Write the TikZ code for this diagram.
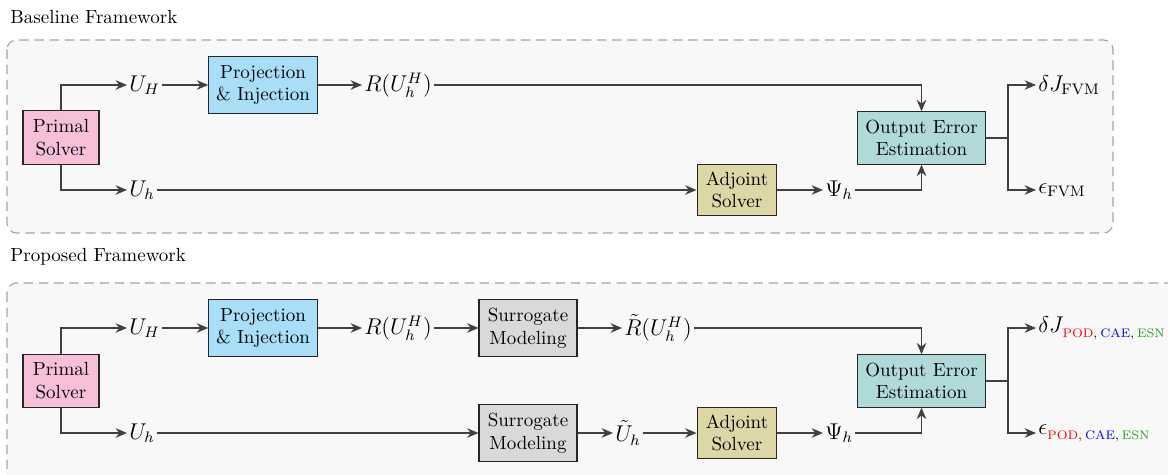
\documentclass[tikz,border=0pt]{standalone}
\usepackage{amsmath}
\usepackage{fontspec}
\usetikzlibrary{arrows.meta}
\definecolor{cpink}{RGB}{247,192,216}
\definecolor{cblue}{RGB}{168,222,248}
\definecolor{cteal}{RGB}{176,218,218}
\definecolor{ckhaki}{RGB}{221,215,166}
\definecolor{cgray}{RGB}{217,217,217}
\definecolor{cbg}{RGB}{248,248,248}
\definecolor{cdash}{RGB}{165,165,165}
\definecolor{cgreen}{RGB}{30,160,30}
\newcommand{\subs}{\raisebox{-2.5pt}{\fontsize{6.5}{8}\selectfont\textcolor{red}{POD},\hspace{1.5pt}\textcolor{blue}{CAE},\hspace{1.5pt}\textcolor{cgreen}{ESN}}}
\begin{document}
\begin{tikzpicture}[x=0.0185cm,y=-0.0185cm,
  blk/.style={draw=black!85, line width=0.6pt, align=center, inner sep=1pt, font=\normalsize},
  lbl/.style={inner sep=1pt, anchor=west, font=\large},
  conn/.style={draw=black!75, line width=0.7pt},
  arr/.style={conn,-{Stealth[length=6pt,width=5pt]}},
  frame/.style={draw=cdash, fill=cbg, dashed, dash pattern=on 5pt off 3pt, line width=0.6pt, rounded corners=5pt}]
\useasboundingbox (0,0) rectangle (1168,475);
\begin{scope}
\clip (0,0) rectangle (1168,475);
\draw[frame] (7,40) rectangle (1113,233);
\draw[frame] (7,283) rectangle (1190,500);
\end{scope}
\node[anchor=west, inner sep=0pt] (t1) at (10,17) {Baseline Framework};
\node[anchor=west, inner sep=0pt] (t2) at (10,257) {Proposed Framework};

% ---------- Baseline ----------
\node[blk, fill=cpink, minimum width=40pt, minimum height=28pt] (ps1) at (61,137.5) {Primal\\Solver};
\node[blk, fill=cblue, minimum width=57pt, minimum height=30pt] (pi1) at (263,85) {Projection\\\& Injection};
\node[blk, fill=cteal, minimum width=67pt, minimum height=27.5pt] (oe1) at (921.5,138) {Output Error\\Estimation};
\node[blk, fill=ckhaki, minimum width=42pt, minimum height=27pt] (as1) at (737,190) {Adjoint\\Solver};
\node[lbl] (uH1) at (127,85) {$U_H$};
\node[lbl] (r1) at (362,85) {$R(U_h^H)$};
\node[lbl] (uh1) at (127,190) {$U_h$};
\node[lbl] (psi1) at (823,190) {$\Psi_h$};
\node[lbl] (dJ1) at (1036,85) {$\delta J_{\text{FVM}}$};
\node[lbl] (e1) at (1036,190) {$\epsilon_{\text{FVM}}$};
\coordinate (b1) at (1008,138);
\draw[arr] (ps1.north) |- (uH1.west);
\draw[arr] (uH1.east) -- (pi1.west);
\draw[arr] (pi1.east) -- (r1.west);
\draw[arr] (r1.east) -| (oe1.north);
\draw[arr] (ps1.south) |- (uh1.west);
\draw[arr] (uh1.east) -- (as1.west);
\draw[arr] (as1.east) -- (psi1.west);
\draw[arr] (psi1.east) -| (oe1.south);
\draw[conn] (oe1.east) -- (b1);
\draw[arr] (b1) |- (dJ1.west);
\draw[arr] (b1) |- (e1.west);

% ---------- Proposed ----------
\node[blk, fill=cpink, minimum width=40pt, minimum height=28pt] (ps2) at (61,381) {Primal\\Solver};
\node[blk, fill=cblue, minimum width=57pt, minimum height=30pt] (pi2) at (263,328) {Projection\\\& Injection};
\node[blk, fill=cgray, minimum width=51.5pt, minimum height=30pt] (sm1) at (528,328) {Surrogate\\Modeling};
\node[blk, fill=cteal, minimum width=67pt, minimum height=27.5pt] (oe2) at (921.5,381) {Output Error\\Estimation};
\node[blk, fill=cgray, minimum width=51.5pt, minimum height=30pt] (sm2) at (528,433) {Surrogate\\Modeling};
\node[blk, fill=ckhaki, minimum width=42pt, minimum height=27pt] (as2) at (737,433) {Adjoint\\Solver};
\node[lbl] (uH2) at (127,328) {$U_H$};
\node[lbl] (r2) at (362,328) {$R(U_h^H)$};
\node[lbl] (rt2) at (622,328) {$\tilde{R}(U_h^H)$};
\node[lbl] (uh2) at (127,433) {$U_h$};
\node[lbl] (ut2) at (613,433) {$\tilde{U}_h$};
\node[lbl] (psi2) at (823,433) {$\Psi_h$};
\node[lbl] (dJ2) at (1036,328) {$\delta J$\hspace{-0.5pt}\subs};
\node[lbl] (e2) at (1036,433) {$\epsilon$\subs};
\coordinate (b2) at (1008,381);
\draw[arr] (ps2.north) |- (uH2.west);
\draw[arr] (uH2.east) -- (pi2.west);
\draw[arr] (pi2.east) -- (r2.west);
\draw[arr] (r2.east) -- (sm1.west);
\draw[arr] (sm1.east) -- (rt2.west);
\draw[arr] (rt2.east) -| (oe2.north);
\draw[arr] (ps2.south) |- (uh2.west);
\draw[arr] (uh2.east) -- (sm2.west);
\draw[arr] (sm2.east) -- (ut2.west);
\draw[arr] (ut2.east) -- (as2.west);
\draw[arr] (as2.east) -- (psi2.west);
\draw[arr] (psi2.east) -| (oe2.south);
\draw[conn] (oe2.east) -- (b2);
\draw[arr] (b2) |- (dJ2.west);
\draw[arr] (b2) |- (e2.west);
\end{tikzpicture}
\end{document}
